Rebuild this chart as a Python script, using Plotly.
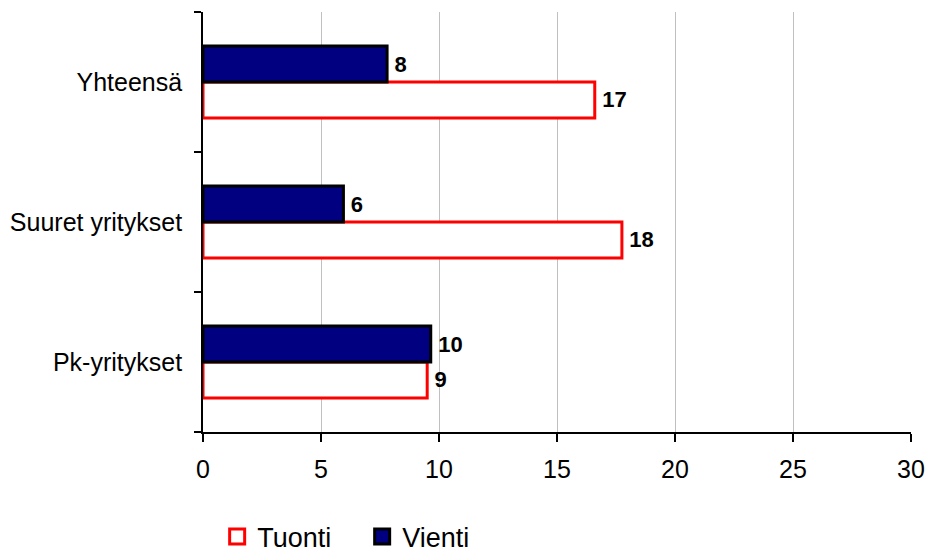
import plotly.graph_objects as go

categories = ["Pk-yritykset", "Suuret yritykset", "Yhteensä"]
tuonti = [9.5, 17.75, 16.6]
vienti = [9.65, 5.95, 7.8]
tuonti_labels = ["9", "18", "17"]
vienti_labels = ["10", "6", "8"]
x_ticks = [0, 5, 10, 15, 20, 25, 30]

font_family = "Liberation Sans, Arial, sans-serif"
label_font = dict(family=font_family, size=22, color="black", weight="bold")

fig = go.Figure()
# first trace sits lowest within each group
fig.add_trace(go.Bar(
    y=categories, x=tuonti, orientation="h", name="Tuonti", showlegend=False,
    marker=dict(color="white", line=dict(color="#ff0000", width=3)),
    text=tuonti_labels, texttemplate="\u2009%{text}", textposition="outside",
    cliponaxis=False, textfont=label_font, hoverinfo="skip",
))
fig.add_trace(go.Bar(
    y=categories, x=vienti, orientation="h", name="Vienti", showlegend=False,
    marker=dict(color="#000080", line=dict(color="black", width=3)),
    text=vienti_labels, texttemplate="\u2009%{text}", textposition="outside",
    cliponaxis=False, textfont=label_font, hoverinfo="skip",
))
# legend entries with bigger square keys
fig.add_trace(go.Scatter(x=[None], y=[None], mode="markers", name="Tuonti",
                         marker=dict(symbol="square", size=15, color="white",
                                     line=dict(color="#ff0000", width=3))))
fig.add_trace(go.Scatter(x=[None], y=[None], mode="markers", name="Vienti",
                         marker=dict(symbol="square", size=15, color="#000080",
                                     line=dict(color="black", width=3))))

fig.update_layout(
    width=927, height=552,
    margin=dict(l=203, r=16, t=12, b=120, autoexpand=False),
    plot_bgcolor="white", paper_bgcolor="white",
    barmode="group", bargap=0.486, bargroupgap=0,
    font=dict(family=font_family, size=25, color="black"),
    legend=dict(orientation="h", x=0.02, y=-0.25, xanchor="left", yanchor="middle",
                font=dict(size=27), traceorder="normal", entrywidth=100),
)
fig.update_xaxes(
    range=[0, 30], tickvals=x_ticks, showgrid=True, gridcolor="#c0c0c0", gridwidth=1,
    showline=True, linecolor="black", linewidth=2, ticks="outside", ticklen=8,
    tickcolor="black", tickwidth=2, zeroline=False, automargin=False,
    ticklabelstandoff=6,
)
fig.update_yaxes(
    showline=True, linecolor="black", linewidth=2, ticks="outside", ticklen=7,
    tickcolor="black", tickwidth=2, tickson="boundaries", showgrid=False,
    ticksuffix="  ", automargin=False,
)

# drop the default 8px body margin so the figure sits flush in the window
fig.write_html("out.html", config={"displayModeBar": False},
               post_script="document.body.style.margin='0';")
